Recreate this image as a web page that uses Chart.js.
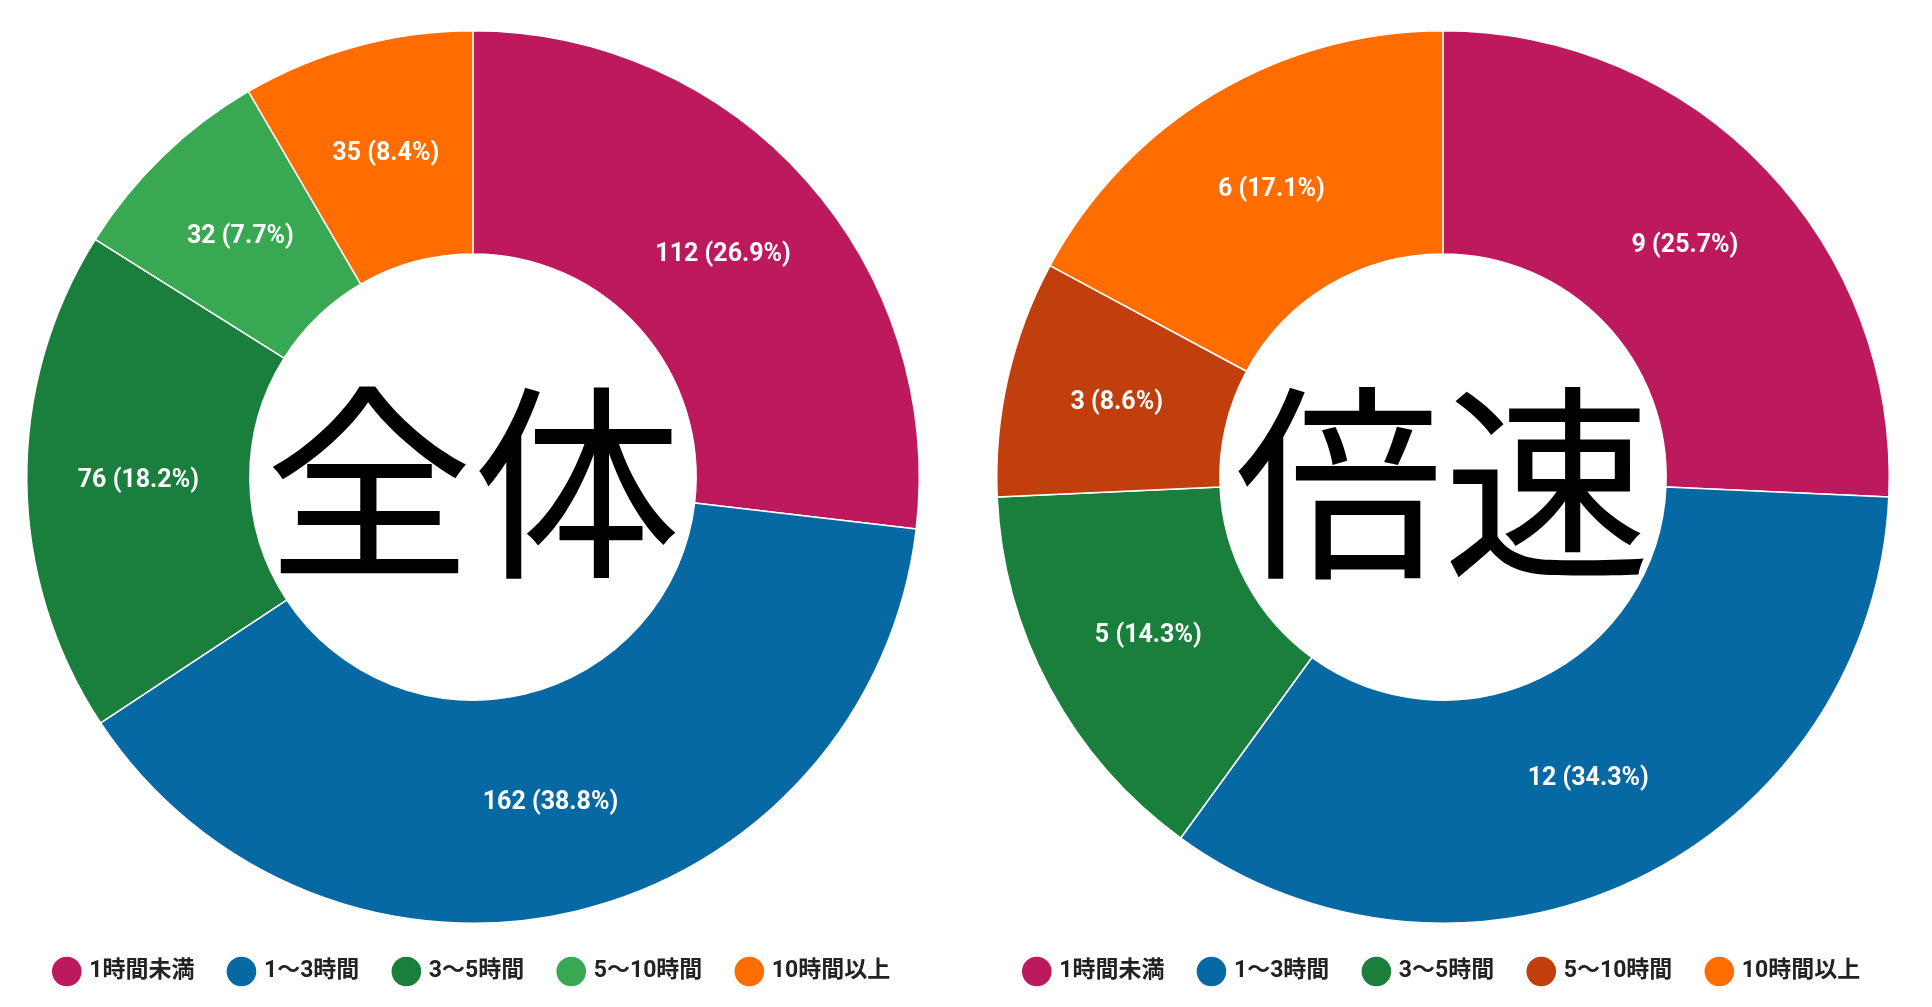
<!DOCTYPE html>
<html><head><meta charset="utf-8">
<script src="https://cdn.jsdelivr.net/npm/chart.js@4.4.0/dist/chart.umd.min.js"></script>
<style>
body{margin:0;background:#fff;width:1932px;height:1007px;overflow:hidden}
.box{position:absolute;top:0;width:966px;height:1007px}
</style></head><body>
<div class="box" style="left:-10px"><canvas id="c1"></canvas></div>
<div class="box" style="left:960px"><canvas id="c2"></canvas></div>
<script>
const categories = ["1時間未満", "1〜3時間", "3〜5時間", "5〜10時間", "10時間以上"];
const allValues = [112, 162, 76, 32, 35];
const allPct = ["26.9", "38.8", "18.2", "7.7", "8.4"];
const fastValues = [9, 12, 5, 3, 6];
const fastPct = ["25.7", "34.3", "14.3", "8.6", "17.1"];
const allColors = ["#bc1a5c", "#0769a3", "#1a7f3c", "#38a853", "#ff6d00"];
const fastColors = ["#bc1a5c", "#0769a3", "#1a7f3c", "#c13f0c", "#ff6d00"];

// labels on slices + big text in the hole
const labelPlugin = {
    id: 'labels',
    afterDatasetsDraw(chart, args, opts) {
        const ctx = chart.ctx;
        const meta = chart.getDatasetMeta(0);
        ctx.save();
        ctx.fillStyle = '#fff';
        ctx.font = 'bold 25px Roboto';
        ctx.textAlign = 'center';
        ctx.textBaseline = 'middle';
        meta.data.forEach((arc, i) => {
            const p = arc.tooltipPosition();
            ctx.fillText(chart.data.datasets[0].data[i] + ' (' + opts.pct[i] + '%)', p.x, p.y);
        });
        const a = meta.data[0];
        ctx.fillStyle = '#000';
        ctx.font = '208px "Noto Sans CJK JP"';
        ctx.fillText(opts.center, a.x, a.y + 6);
        ctx.restore();
    }
};

function makeChart(id, values, colors, pct, center) {
    return new Chart(document.getElementById(id), {
        type: 'doughnut',
        data: {
            labels: categories,
            datasets: [{ data: values, backgroundColor: colors, borderColor: '#fff', borderWidth: 1.5 }]
        },
        options: {
            responsive: true,
            maintainAspectRatio: false,
            animation: false,
            cutout: '50%',
            layout: { padding: { top: 30, bottom: 14 } },
            plugins: {
                legend: {
                    position: 'bottom',
                    labels: {
                        usePointStyle: true, pointStyle: 'circle', boxWidth: 22, boxHeight: 22,
                        padding: 36, color: '#222', font: { family: 'Roboto, "Noto Sans CJK JP"', size: 23, weight: 'bold' }
                    }
                },
                tooltip: { enabled: false },
                labels: { pct: pct, center: center }
            }
        },
        plugins: [labelPlugin]
    });
}
makeChart('c1', allValues, allColors, allPct, '全体');
makeChart('c2', fastValues, fastColors, fastPct, '倍速');
</script>
</body></html>
